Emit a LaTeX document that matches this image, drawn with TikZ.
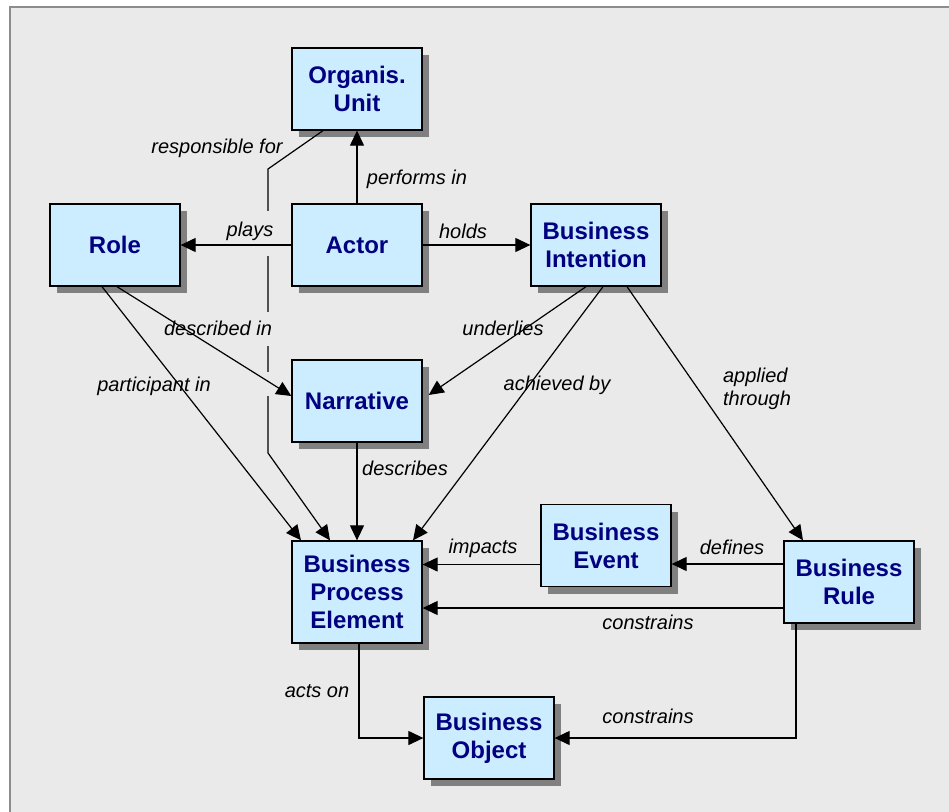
\documentclass[tikz,border=0pt]{standalone}
\usepackage{fontspec}
\setmainfont{Liberation Sans}
\usetikzlibrary{arrows.meta,shadows,calc}
\definecolor{bgc}{HTML}{EAEAEA}
\definecolor{boxc}{HTML}{CCECFF}
\definecolor{navyc}{HTML}{000080}
\definecolor{framec}{HTML}{8C8C8C}
\definecolor{shadc}{HTML}{808080}
\begin{document}
\begin{tikzpicture}[x=1pt,y=-1pt,
  entity/.style={draw=black, line width=1.3pt, fill=boxc, minimum width=130pt, minimum height=82pt,
    inner sep=0pt, align=center, text=navyc, font=\bfseries\fontsize{24}{28}\selectfont,
    drop shadow={shadow xshift=7pt, shadow yshift=-7pt, fill=shadc, opacity=1}},
  conn/.style={line width=1.2pt, -{Triangle[length=15pt,width=14pt]}},
  lab/.style={font=\itshape\fontsize{20}{23}\selectfont, inner sep=0pt, align=left}]
\useasboundingbox (0,0) rectangle (949,811);
\fill[bgc] (10,7) rectangle (960,820);
\draw[framec, line width=1.5pt] (10,820) -- (10,7) -- (960,7);

% nodes
\node[entity] (OU) at (357,89) {Organis.\\Unit};
\node[entity] (Role) at (115,245) {Role};
\node[entity] (Actor) at (357,245) {Actor};
\node[entity] (BI) at (596,245) {Business\\Intention};
\node[entity] (Narr) at (357,401) {Narrative};
\node[entity, minimum height=102pt] (BPE) at (357,592) {Business\\Process\\Element};
\node[entity] (BE) at (606,545.5) {Business\\Event};
\node[entity] (BO) at (489,738) {Business\\Object};
\node[entity] (BR) at (849,582) {Business\\Rule};

% responsible for (drawn first, with line jumps)
\coordinate (r1) at (268,169);
\coordinate (r2) at (268,453);
\draw[conn] ([xshift=-34pt]OU.south) -- (r1) -- (r2) -- ([xshift=-27pt]BPE.north);
\fill[bgc] (263,211) rectangle (273,256);
\fill[bgc] (263,312) rectangle (273,346);
\fill[bgc] (263,372) rectangle (273,396);

% connectors
\draw[conn] (Actor.north) -- (OU.south);
\draw[conn] (Actor.west) -- (Role.east);
\draw[conn] (Actor.east) -- (BI.west);
\draw[conn] ([xshift=2pt]Role.south) -- ([yshift=5pt]Narr.west);
\draw[conn] ([xshift=-13pt]Role.south) -- ([xshift=-56pt]BPE.north);
\draw[conn] ([xshift=-10pt]BI.south) -- ($(Narr.east)+(6,-6)$);
\draw[conn] ([xshift=7pt]BI.south) -- ([xshift=56pt]BPE.north);
\draw[conn] ([xshift=31pt]BI.south) -- ([xshift=-46pt]BR.north);
\draw[conn] (Narr.south) -- (BPE.north);
\draw[conn] ([yshift=-19pt]BE.west) -- ([yshift=-19pt]BE.west -| BPE.east);
\draw[conn] ([yshift=18pt]BR.west) -- ([yshift=18pt]BR.west -| BE.east);
\draw[conn] ([yshift=-26pt]BR.west) -- ([yshift=-26pt]BR.west -| BPE.east);
\draw[conn] ([xshift=2pt]BPE.south) |- (BO.west);
\draw[conn] ([xshift=-53pt]BR.south) |- (BO.east);

% labels
\node[lab] (l1) at (217,148) {responsible for};
\node[lab] (l2) at (417,179) {performs in};
\node[lab] (l3) at (250,231) {plays};
\node[lab] (l4) at (463,231) {holds};
\node[lab] (l5) at (218,328) {described in};
\node[lab] (l6) at (503,328) {underlies};
\node[lab] (l7) at (154,386) {participant in};
\node[lab] (l8) at (557,385) {achieved by};
\node[lab] (l9) at (757,389) {applied\\through};
\node[lab] (l10) at (405,468) {describes};
\node[lab] (l11) at (483,548) {impacts};
\node[lab] (l12) at (732,547) {defines};
\node[lab] (l13) at (648,622) {constrains};
\node[lab] (l14) at (317,691) {acts on};
\node[lab] (l15) at (648,716) {constrains};
\end{tikzpicture}
\end{document}
